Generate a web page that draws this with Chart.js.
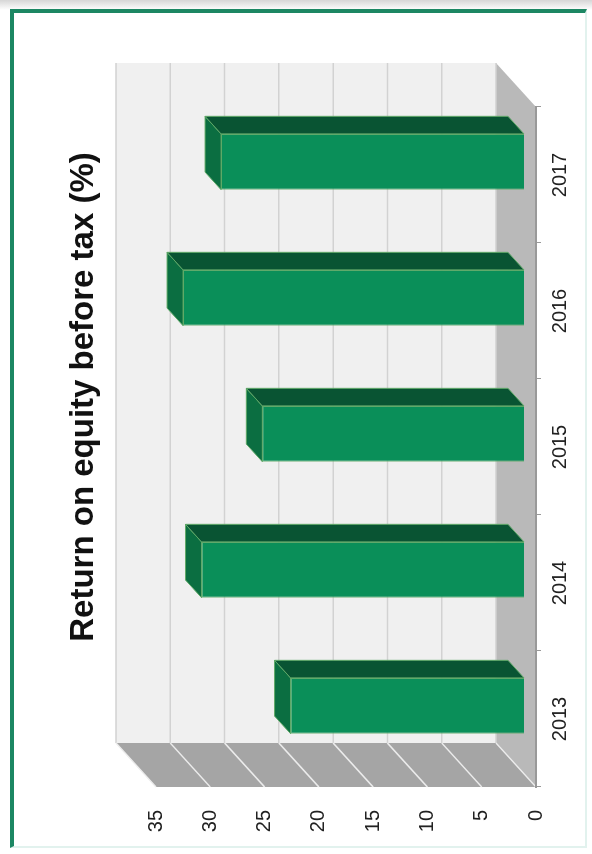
<!DOCTYPE html>
<html>
<head>
<meta charset="utf-8">
<script src="https://cdn.jsdelivr.net/npm/chart.js@4.4.1/dist/chart.umd.min.js"></script>
<style>
  html, body { margin: 0; padding: 0; background: #fff; width: 592px; height: 854px; overflow: hidden; }
  #shade { position: absolute; left: 0; top: 0; width: 592px; height: 10px; background: linear-gradient(#d6d6d6, #ffffff); }
  #frame {
    position: absolute; left: 10px; top: 9px; width: 571px; height: 833px;
    border-left: 4px solid #1c8763; border-top: 4px solid #1c8763;
    border-right: 2px solid #e2f2ee; border-bottom: 2px solid #e2f2ee;
  }
  /* chart is laid out as a column chart and turned on its side */
  #chart { position: absolute; left: -131px; top: 131px; width: 854px; height: 592px; transform: rotate(-90deg); }
</style>
</head>
<body>
<div id="shade"></div>
<div id="frame"></div>
<canvas id="chart" width="854" height="592"></canvas>
<script>
const years = ['2013', '2014', '2015', '2016', '2017'];
const roe = [21.5, 29.7, 24.1, 31.4, 27.9];
const valueMin = 0;
const valueMax = 35;
const valueStep = 5;
const titleText = 'Return on equity before tax (%)';

// offset of the back wall from the front plane
const depth = { x: 44, y: -40 };
const barShift = 0.3;   // where the bar front sits inside the depth
const barDepth = 0.4;   // how deep the bars are

const labelFont = { family: "'Liberation Sans', Arial, sans-serif", size: 20 };

function poly(ctx, pts, fill, stroke) {
    ctx.beginPath();
    ctx.moveTo(pts[0][0], pts[0][1]);
    for (let i = 1; i < pts.length; i++) ctx.lineTo(pts[i][0], pts[i][1]);
    ctx.closePath();
    ctx.fillStyle = fill;
    ctx.fill();
    if (stroke) {
        ctx.strokeStyle = stroke;
        ctx.lineWidth = 1;
        ctx.stroke();
    }
}

const walls = {
    id: 'walls',
    beforeDraw(chart) {
        const { ctx, chartArea: a } = chart;
        const y = chart.scales.y;
        const dx = depth.x, dy = depth.y;
        ctx.save();
        poly(ctx, [[a.left, a.top], [a.left + dx, a.top + dy], [a.left + dx, a.bottom + dy], [a.left, a.bottom]], '#a5a5a5');
        poly(ctx, [[a.left, a.bottom], [a.right, a.bottom], [a.right + dx, a.bottom + dy], [a.left + dx, a.bottom + dy]], '#b9b9b9');
        ctx.fillStyle = '#f0f0f0';
        ctx.fillRect(a.left + dx, a.top + dy, a.right - a.left, a.bottom - a.top);

        ctx.lineWidth = 1.5;
        y.ticks.forEach(t => {
            const py = y.getPixelForValue(t.value);
            ctx.strokeStyle = '#d2d2d2';
            ctx.beginPath();
            ctx.moveTo(a.left + dx, py + dy);
            ctx.lineTo(a.right + dx, py + dy);
            ctx.stroke();
            ctx.strokeStyle = '#ececec';
            ctx.beginPath();
            ctx.moveTo(a.left, py);
            ctx.lineTo(a.left + dx, py + dy);
            ctx.stroke();
        });
        ctx.restore();
    }
};

const bars3d = {
    id: 'bars3d',
    beforeDatasetsDraw(chart) {
        chart.ctx.save();
        chart.ctx.translate(depth.x * barShift, depth.y * barShift);
    },
    afterDatasetsDraw(chart) {
        const ctx = chart.ctx;
        const ox = depth.x * barDepth, oy = depth.y * barDepth;
        chart.getDatasetMeta(0).data.forEach(bar => {
            const { x, y, base, width } = bar.getProps(['x', 'y', 'base', 'width'], true);
            const l = x - width / 2, r = x + width / 2;
            poly(ctx, [[l, y], [r, y], [r + ox, y + oy], [l + ox, y + oy]], '#0b6e41', '#5fa967');
            poly(ctx, [[r, y], [r + ox, y + oy], [r + ox, base + oy], [r, base]], '#095433', '#5fa967');
        });
        ctx.restore();
    }
};

const title = {
    id: 'sideTitle',
    afterDraw(chart) {
        const { ctx, chartArea: a } = chart;
        ctx.save();
        ctx.font = "bold 33px 'Liberation Sans', Arial, sans-serif";
        ctx.fillStyle = '#111';
        ctx.textAlign = 'center';
        ctx.textBaseline = 'alphabetic';
        ctx.fillText(titleText, (a.left + a.right) / 2 + depth.x + 6, 93);
        ctx.restore();
    }
};

new Chart(document.getElementById('chart'), {
    type: 'bar',
    data: {
        labels: years,
        datasets: [{
            data: roe,
            backgroundColor: '#0a8f59',
            borderColor: '#5fa967',
            borderWidth: 1,
            barPercentage: 0.41,
            categoryPercentage: 1,
            clip: false
        }]
    },
    options: {
        responsive: false,
        animation: false,
        devicePixelRatio: 1,
        layout: { padding: { top: 156, right: 107, left: 0, bottom: 0 } },
        plugins: {
            legend: { display: false },
            title: { display: false },
            tooltip: { enabled: false }
        },
        scales: {
            x: {
                grid: { display: true, drawOnChartArea: false, drawTicks: true, tickLength: 5, color: '#999', offset: true },
                border: { display: true, color: '#999', width: 2 },
                ticks: { font: labelFont, color: '#222', padding: 7, maxRotation: 0 },
                afterFit(s) { s.height = 56; }
            },
            y: {
                min: valueMin,
                max: valueMax,
                ticks: { stepSize: valueStep, font: labelFont, color: '#222', padding: 15 },
                grid: { display: false },
                border: { display: false },
                afterFit(s) { s.width = 67; }
            }
        }
    },
    plugins: [walls, bars3d, title]
});
</script>
</body>
</html>
